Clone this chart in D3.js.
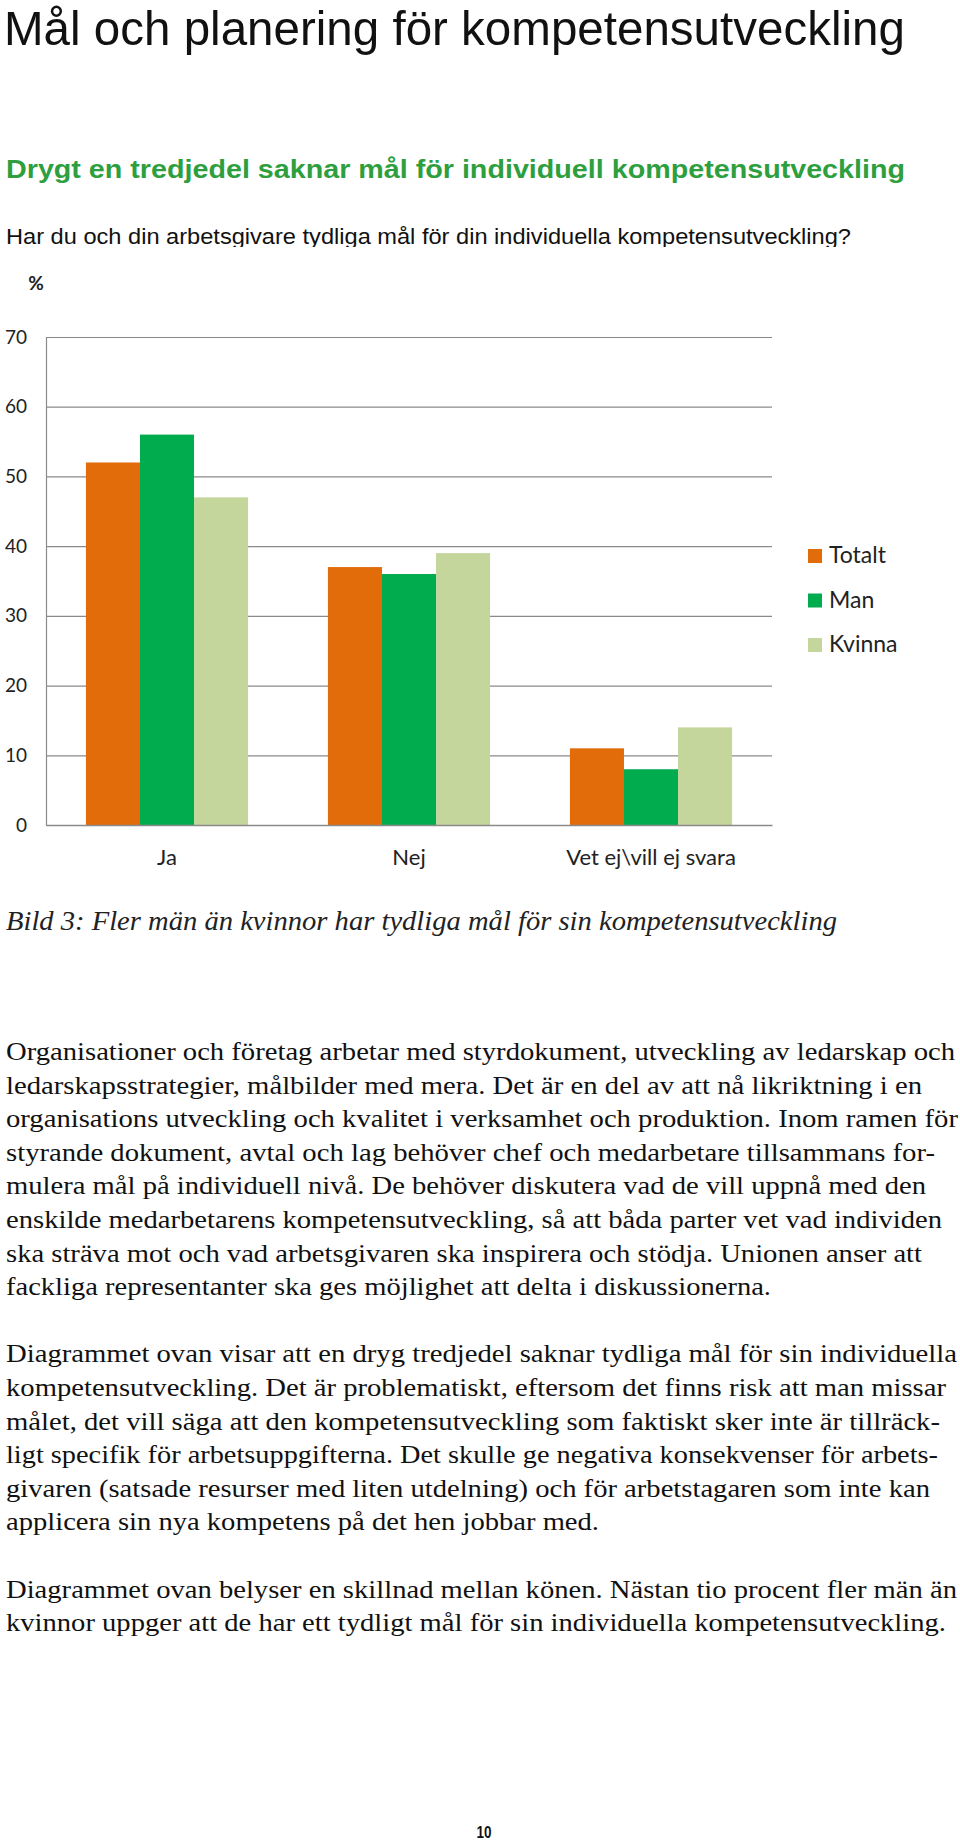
<!DOCTYPE html>
<html>
<head>
<meta charset="utf-8">
<script src="https://cdn.jsdelivr.net/npm/d3@7/dist/d3.min.js"></script>
<style>
html,body{margin:0;padding:0;background:#fff;}
svg{display:block;}
</style>
</head>
<body>
<script>
// ---- data ----
const categories = ["Ja", "Nej", "Vet ej\\vill ej svara"];
const seriesNames = ["Totalt", "Man", "Kvinna"];
const totalt = [52, 37, 11];
const man = [56, 36, 8];
const kvinna = [47, 39, 14];
const yTicks = [0, 10, 20, 30, 40, 50, 60, 70];
const seriesColors = ["#E36C0A", "#00AC4E", "#C4D69C"];

const title = "Mål och planering för kompetensutveckling";
const subtitle = "Drygt en tredjedel saknar mål för individuell kompetensutveckling";
const question = "Har du och din arbetsgivare tydliga mål för din individuella kompetensutveckling?";
const caption = "Bild 3: Fler män än kvinnor har tydliga mål för sin kompetensutveckling";
const bodyLines = [
  ["Organisationer och företag arbetar med styrdokument, utveckling av ledarskap och", 0, 949],
  ["ledarskapsstrategier, målbilder med mera. Det är en del av att nå likriktning i en", 1, 916],
  ["organisations utveckling och kvalitet i verksamhet och produktion. Inom ramen för", 2, 952],
  ["styrande dokument, avtal och lag behöver chef och medarbetare tillsammans for-", 3, 929],
  ["mulera mål på individuell nivå. De behöver diskutera vad de vill uppnå med den", 4, 920],
  ["enskilde medarbetarens kompetensutveckling, så att båda parter vet vad individen", 5, 936],
  ["ska sträva mot och vad arbetsgivaren ska inspirera och stödja. Unionen anser att", 6, 916],
  ["fackliga representanter ska ges möjlighet att delta i diskussionerna.", 7, 765],
  ["Diagrammet ovan visar att en dryg tredjedel saknar tydliga mål för sin individuella", 9, 951],
  ["kompetensutveckling. Det är problematiskt, eftersom det finns risk att man missar", 10, 940],
  ["målet, det vill säga att den kompetensutveckling som faktiskt sker inte är tillräck-", 11, 934],
  ["ligt specifik för arbetsuppgifterna. Det skulle ge negativa konsekvenser för arbets-", 12, 932],
  ["givaren (satsade resurser med liten utdelning) och för arbetstagaren som inte kan", 13, 924],
  ["applicera sin nya kompetens på det hen jobbar med.", 14, 593],
  ["Diagrammet ovan belyser en skillnad mellan könen. Nästan tio procent fler män än", 16, 951],
  ["kvinnor uppger att de har ett tydligt mål för sin individuella kompetensutveckling.", 17, 940]
];

const W = 960, H = 1844;
const svg = d3.select("body").append("svg").attr("width", W).attr("height", H);

// ---- header text ----
svg.append("text").attr("x", 4).attr("y", 45)
  .attr("font-family", "Liberation Sans, Arial, sans-serif").attr("font-size", 49)
  .attr("font-weight", 300).attr("fill", "#111")
  .attr("textLength", 901).attr("lengthAdjust", "spacingAndGlyphs")
  .text(title);

svg.append("text").attr("x", 6).attr("y", 178)
  .attr("font-family", "Liberation Sans, Arial, sans-serif").attr("font-size", 25)
  .attr("font-weight", 700).attr("fill", "#2E9F3E")
  .attr("textLength", 899).attr("lengthAdjust", "spacingAndGlyphs")
  .text(subtitle);

svg.append("clipPath").attr("id", "qclip").append("rect")
  .attr("x", 0).attr("y", 200).attr("width", W).attr("height", 47);
svg.append("text").attr("x", 6).attr("y", 244)
  .attr("clip-path", "url(#qclip)")
  .attr("font-family", "Liberation Sans, Arial, sans-serif").attr("font-size", 22)
  .attr("fill", "#111")
  .attr("textLength", 845).attr("lengthAdjust", "spacingAndGlyphs")
  .text(question);

// ---- chart ----
const pLeft = 46, pRight = 772, pTop = 337, pBottom = 825;
const x0 = d3.scaleBand().domain(categories).range([pLeft, pRight])
  .paddingInner(0.33).paddingOuter(0.165);
const x1 = d3.scaleBand().domain(seriesNames).range([0, x0.bandwidth()]).padding(0);
const y = d3.scaleLinear().domain([0, 70]).range([pBottom, pTop]);

const yAxis = svg.append("g").attr("transform", `translate(${pLeft},0)`)
  .call(d3.axisLeft(y).tickValues(yTicks).tickSize(-(pRight - pLeft)).tickSizeOuter(0).tickPadding(19));
yAxis.selectAll(".tick line").attr("stroke", "#8a8a8a").attr("stroke-width", 1.2);
yAxis.select(".domain").attr("stroke", "#8a8a8a").attr("stroke-width", 1.2);
yAxis.selectAll("text").attr("font-family", "Lato, 'Open Sans', sans-serif")
  .attr("font-size", 19).attr("fill", "#222");

svg.append("text").attr("x", 36).attr("y", 290).attr("text-anchor", "middle")
  .attr("font-family", "Lato, 'Open Sans', sans-serif").attr("font-size", 19)
  .attr("font-weight", 700).attr("fill", "#222").text("%");

const seriesValues = [totalt, man, kvinna];
const groups = svg.append("g").selectAll("g").data(categories).join("g")
  .attr("transform", d => `translate(${x0(d)},0)`);
groups.selectAll("rect")
  .data((c, ci) => seriesNames.map((s, si) => ({ s, si, v: seriesValues[si][ci] })))
  .join("rect")
  .attr("x", d => x1(d.s))
  .attr("width", x1.bandwidth())
  .attr("y", d => y(d.v))
  .attr("height", d => y(0) - y(d.v))
  .attr("fill", d => seriesColors[d.si]);

const xAxis = svg.append("g").attr("transform", `translate(0,${pBottom})`)
  .call(d3.axisBottom(x0).tickSize(0).tickSizeOuter(0).tickPadding(0));
xAxis.select(".domain").attr("stroke", "#8a8a8a").attr("stroke-width", 1.5);
xAxis.selectAll("text").attr("y", 40).attr("dy", 0)
  .attr("font-family", "Lato, 'Open Sans', sans-serif").attr("font-size", 22).attr("fill", "#222");

// legend
const legend = svg.append("g").selectAll("g").data(seriesNames).join("g")
  .attr("transform", (d, i) => `translate(808,${549 + i * 44.5})`);
legend.append("rect").attr("width", 14).attr("height", 14)
  .attr("fill", (d, i) => seriesColors[i]);
legend.append("text").attr("x", 21).attr("y", 14)
  .attr("font-family", "Lato, 'Open Sans', sans-serif").attr("font-size", 23).attr("fill", "#222")
  .text(d => d);

// ---- caption & body ----
svg.append("text").attr("x", 6).attr("y", 930)
  .attr("font-family", "Liberation Serif, 'Times New Roman', serif").attr("font-size", 27)
  .attr("font-style", "italic").attr("fill", "#222")
  .attr("textLength", 831).attr("lengthAdjust", "spacingAndGlyphs")
  .text(caption);

svg.append("g").selectAll("text").data(bodyLines).join("text")
  .attr("x", 6).attr("y", d => 1060 + d[1] * 33.6)
  .attr("font-family", "Liberation Serif, 'Times New Roman', serif").attr("font-size", 26)
  .attr("fill", "#111")
  .attr("textLength", d => d[2]).attr("lengthAdjust", "spacingAndGlyphs")
  .text(d => d[0]);

svg.append("text").attr("x", 484).attr("y", 1838).attr("text-anchor", "middle")
  .attr("font-family", "Liberation Sans, Arial, sans-serif").attr("font-size", 16)
  .attr("font-weight", 700).attr("fill", "#111")
  .attr("textLength", 15).attr("lengthAdjust", "spacingAndGlyphs")
  .text("10");
</script>
</body>
</html>
